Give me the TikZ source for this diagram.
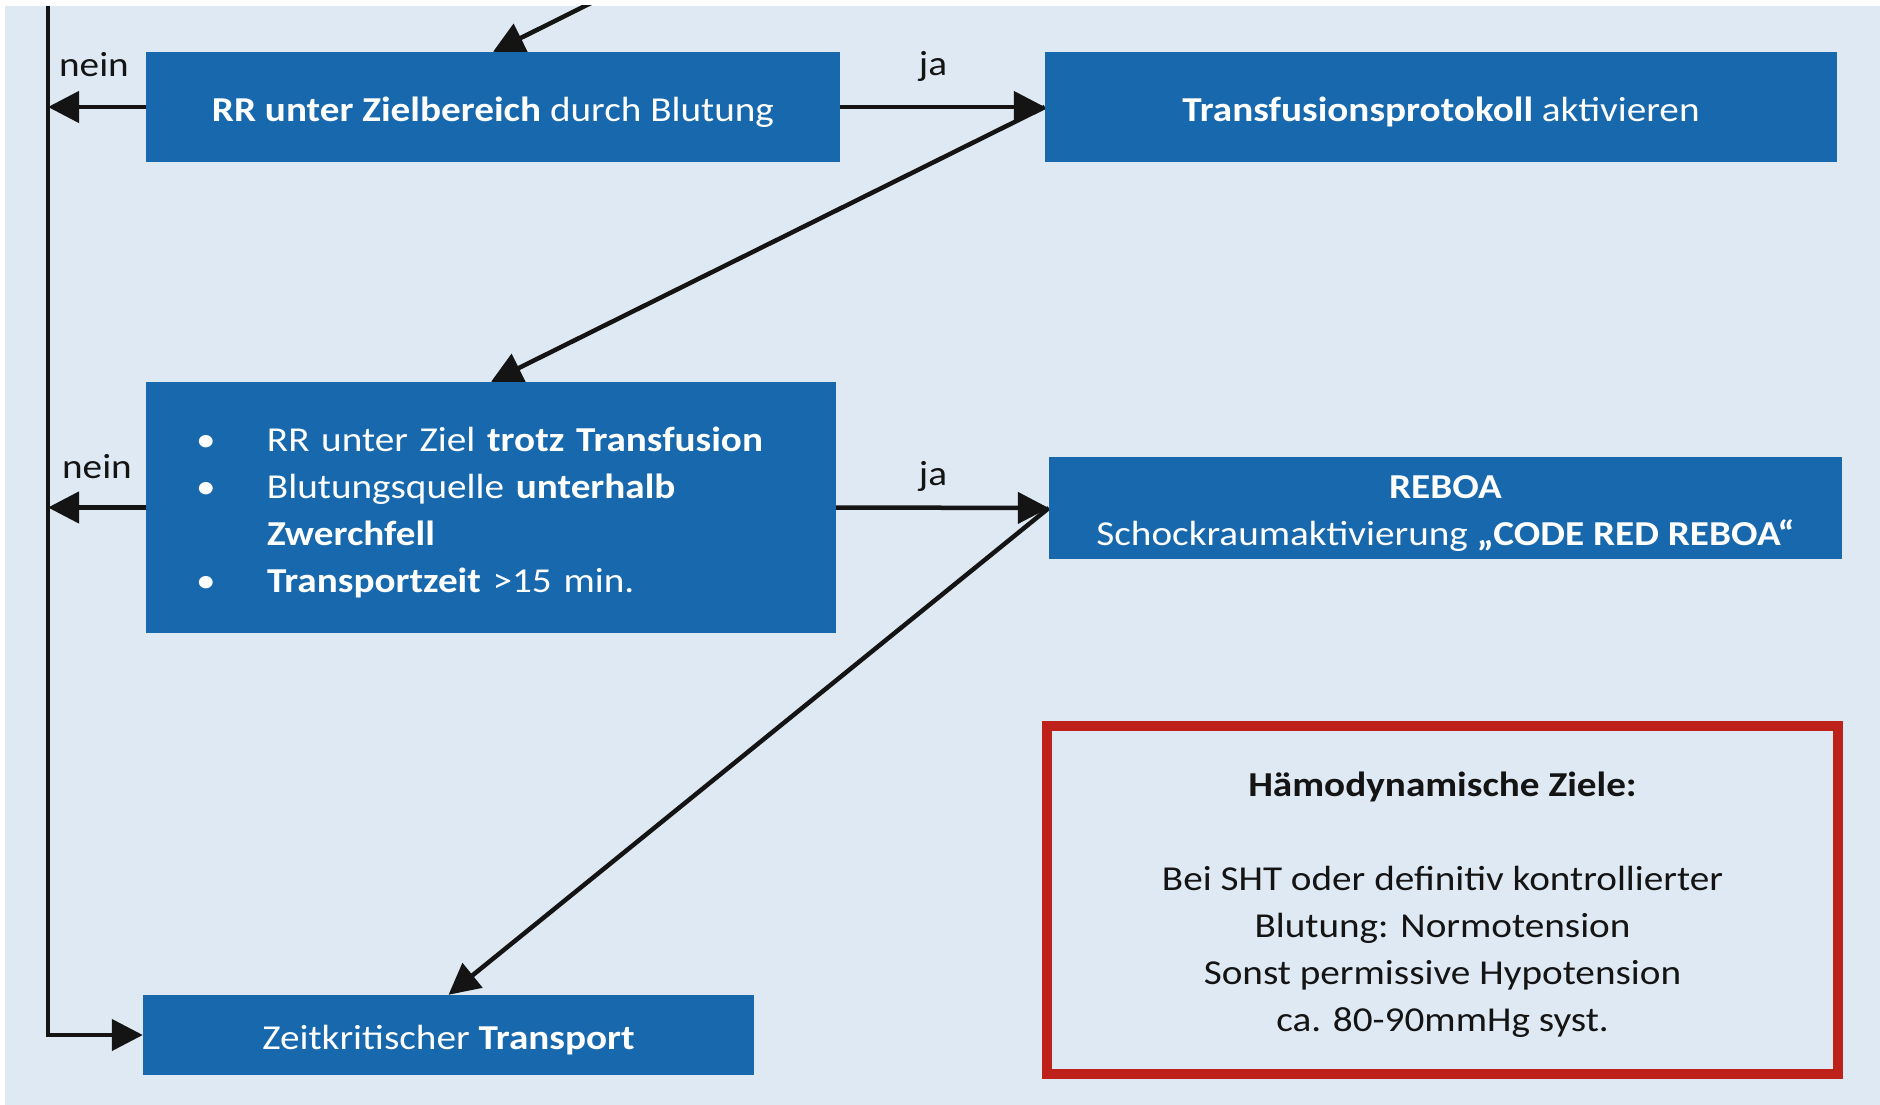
\documentclass[tikz,border=0pt]{standalone}
\usepackage{fontspec}
\setmainfont{Carlito}[FakeStretch=1.12]
\usetikzlibrary{arrows.meta,calc}
\pgfdeclarelayer{back}
\pgfdeclarelayer{links}
\pgfsetlayers{back,links,main}
\definecolor{bgblue}{RGB}{223,233,243}
\definecolor{boxblue}{RGB}{23,104,172}
\definecolor{redframe}{RGB}{190,33,26}
\definecolor{ink}{RGB}{20,20,20}
\newcommand{\dn}[1]{\raisebox{-5pt}[\height][\depth]{#1}}
\begin{document}
\begin{tikzpicture}[x=1pt,y=-1pt,
  box/.style={fill=boxblue, text=white, inner sep=0pt, align=center,
    font=\fontsize{35}{47}\selectfont},
  conn/.style={draw=ink, line width=4.5pt, -{Triangle[length=31pt,width=31pt]}},
  lbl/.style={text=ink, inner sep=0pt, font=\fontsize{35}{40}\selectfont}]
\begin{pgfonlayer}{back}
\fill[white] (0,0) rectangle (1880,1105);
\fill[bgblue] (5,6) rectangle (1880,1105);
\end{pgfonlayer}
\useasboundingbox (0,0) rectangle (1880,1105);

\node[box, minimum width=694pt, minimum height=110pt] (b1) at (493,107)
  {\dn{\textbf{RR unter Zielbereich} durch Blutung}};
\node[box, minimum width=792pt, minimum height=110pt] (b2) at (1441,107)
  {\dn{\textbf{Transfusionsprotokoll} aktivieren}};
\node[box, minimum width=690pt, minimum height=251pt, align=left,
  text width=590pt, inner xsep=50pt] (b3) at (491,507.5)
  {\dn{\begin{tabular}{@{}p{71pt}@{}l@{}}
   • & RR unter Ziel \textbf{trotz Transfusion}\\
   • & Blutungsquelle \textbf{unterhalb}\\
     & \textbf{Zwerchfell}\\
   • & \textbf{Transportzeit} >15 min.
   \end{tabular}}};
\node[box, minimum width=793pt, minimum height=102pt] (b4) at (1445.5,508)
  {\dn{\begin{tabular}{@{}c@{}}\textbf{REBOA}\\
   Schockraumaktivierung \textbf{„CODE RED REBOA“}\end{tabular}}};
\node[box, minimum width=611pt, minimum height=80pt] (b5) at (448.5,1035)
  {\dn{Zeitkritischer \textbf{Transport}}};
\node[draw=redframe, line width=10pt, minimum width=791pt, minimum height=348pt,
  text=ink, align=center, inner sep=0pt, font=\fontsize{35}{47}\selectfont]
  (goals) at (1442.5,900)
  {\dn{\begin{tabular}{@{}c@{}}\textbf{Hämodynamische Ziele:}\\[47pt]
   Bei SHT oder definitiv kontrollierter\\
   Blutung: Normotension\\
   Sonst permissive Hypotension\\
   ca. 80-90mmHg syst.\end{tabular}}};

\coordinate (vtop) at (48,6);
\coordinate (intop) at (597,0);

\begin{pgfonlayer}{links}
\begin{scope}
\clip (5,6) rectangle (1880,1105);
\draw[conn] (intop) -- (b1.north);
\draw[conn] (vtop) |- (b5.west);
\end{scope}
\draw[conn] (b1.west) -- (b1.west -| vtop);
\draw[conn] (b3.west) -- (b3.west -| vtop);
\draw[conn] (b1.east) -- (b2.west);
\draw[conn] (b3.east) -- (b4.west);
\draw[conn] (b2.west) -- (b3.north);
\draw[conn] (b4.west) -- (b5.north);
\end{pgfonlayer}

\node[lbl] (n1) at (94,65) {nein};
\node[lbl] (n2) at (97,467) {nein};
\node[lbl] (j1) at (933,66) {ja};
\node[lbl] (j2) at (933,476) {ja};
\end{tikzpicture}
\end{document}
